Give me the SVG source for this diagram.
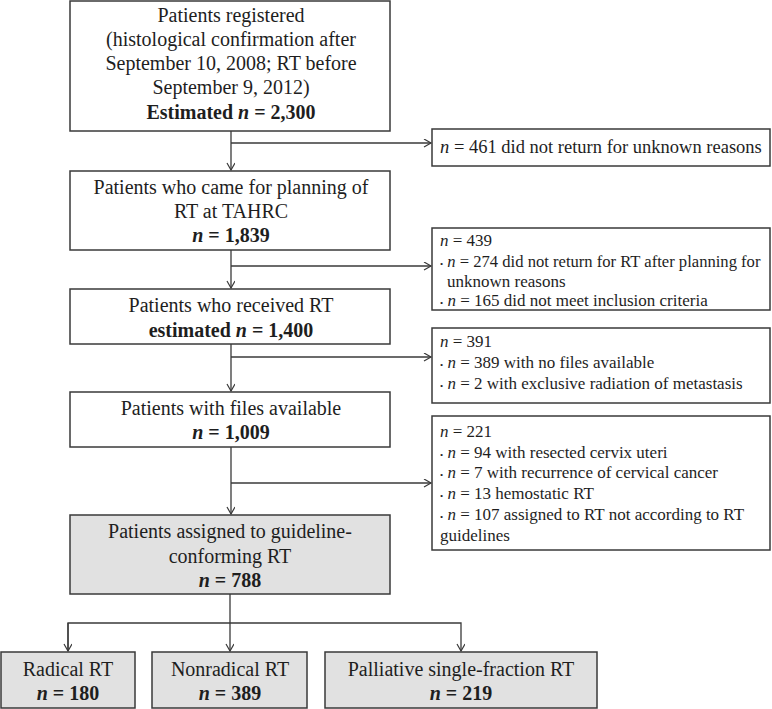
<svg xmlns="http://www.w3.org/2000/svg" width="772" height="709" viewBox="0 0 772 709">
<defs>
<marker id="arr" markerWidth="10" markerHeight="10" refX="8" refY="4" orient="auto" markerUnits="userSpaceOnUse">
<path d="M1,0 L8,4 L1,8" fill="none" stroke="#3a3a3a" stroke-width="1.2"/>
</marker>
</defs>
<style>
.box{fill:#ffffff;stroke:#3a3a3a;stroke-width:1.5}
.gbox{fill:#e1e1e1;stroke:#3a3a3a;stroke-width:1.5}
.t{font-family:"Liberation Serif","Times New Roman",serif;font-size:20px;fill:#1e1e1e;text-anchor:middle}
.r{font-family:"Liberation Serif","Times New Roman",serif;font-size:17px;fill:#1e1e1e}
.b{font-weight:bold}
.i{font-style:italic}
.bul{font-size:9px}
.c{fill:none;stroke:#3a3a3a;stroke-width:1.3}
</style>
<g id="connectors">
<path class="c" d="M231,131 V170" marker-end="url(#arr)"/>
<path class="c" d="M231,143 H431" marker-end="url(#arr)"/>
<path class="c" d="M231,250 V288" marker-end="url(#arr)"/>
<path class="c" d="M231,266 H431" marker-end="url(#arr)"/>
<path class="c" d="M231,344 V391" marker-end="url(#arr)"/>
<path class="c" d="M231,357 H431" marker-end="url(#arr)"/>
<path class="c" d="M231,447 V514" marker-end="url(#arr)"/>
<path class="c" d="M231,483 H431" marker-end="url(#arr)"/>
<path class="c" d="M230,594 V651" marker-end="url(#arr)"/>
<path class="c" d="M68,651 V623 H461 V651" marker-end="url(#arr)"/>
<path class="c" d="M68,623 V651" marker-end="url(#arr)"/>
</g>
<g id="n1">
<rect class="box" x="70" y="1" width="320" height="130"/>
<text class="t" x="231" y="22">Patients registered</text>
<text class="t" x="231" y="46">(histological confirmation after</text>
<text class="t" x="231" y="70">September 10, 2008; RT before</text>
<text class="t" x="231" y="94">September 9, 2012)</text>
<text class="t b" x="231" y="119">Estimated <tspan class="i">n</tspan> = 2,300</text>
</g>
<g id="x1">
<rect class="box" x="432" y="129" width="338" height="37"/>
<text class="r" x="440" y="153" style="font-size:18.5px"><tspan class="i">n</tspan> = 461 did not return for unknown reasons</text>
</g>
<g id="n2">
<rect class="box" x="70" y="171" width="320" height="79"/>
<text class="t" x="231" y="194">Patients who came for planning of</text>
<text class="t" x="231" y="218">RT at TAHRC</text>
<text class="t b" x="231" y="242"><tspan class="i">n</tspan> = 1,839</text>
</g>
<g id="x2">
<rect class="box" x="432" y="228" width="338" height="82"/>
<text class="r" x="440" y="246"><tspan class="i">n</tspan> = 439</text>
<text class="r" x="440" y="267" style="font-size:16.6px"><tspan class="bul">•</tspan> <tspan class="i">n</tspan> = 274 did not return for RT after planning for</text>
<text class="r" x="447" y="287">unknown reasons</text>
<text class="r" x="440" y="306"><tspan class="bul">•</tspan> <tspan class="i">n</tspan> = 165 did not meet inclusion criteria</text>
</g>
<g id="n3">
<rect class="box" x="70" y="289" width="320" height="55"/>
<text class="t" x="231" y="312">Patients who received RT</text>
<text class="t b" x="231" y="337">estimated <tspan class="i">n</tspan> = 1,400</text>
</g>
<g id="x3">
<rect class="box" x="432" y="328" width="338" height="75"/>
<text class="r" x="440" y="347"><tspan class="i">n</tspan> = 391</text>
<text class="r" x="440" y="368"><tspan class="bul">•</tspan> <tspan class="i">n</tspan> = 389 with no files available</text>
<text class="r" x="440" y="389"><tspan class="bul">•</tspan> <tspan class="i">n</tspan> = 2 with exclusive radiation of metastasis</text>
</g>
<g id="n4">
<rect class="box" x="70" y="392" width="320" height="55"/>
<text class="t" x="231" y="415">Patients with files available</text>
<text class="t b" x="231" y="439"><tspan class="i">n</tspan> = 1,009</text>
</g>
<g id="x4">
<rect class="box" x="432" y="416" width="338" height="134"/>
<text class="r" x="440" y="437"><tspan class="i">n</tspan> = 221</text>
<text class="r" x="440" y="458"><tspan class="bul">•</tspan> <tspan class="i">n</tspan> = 94 with resected cervix uteri</text>
<text class="r" x="440" y="478"><tspan class="bul">•</tspan> <tspan class="i">n</tspan> = 7 with recurrence of cervical cancer</text>
<text class="r" x="440" y="499"><tspan class="bul">•</tspan> <tspan class="i">n</tspan> = 13 hemostatic RT</text>
<text class="r" x="440" y="520"><tspan class="bul">•</tspan> <tspan class="i">n</tspan> = 107 assigned to RT not according to RT</text>
<text class="r" x="440" y="541">guidelines</text>
</g>
<g id="n5">
<rect class="gbox" x="70" y="515" width="320" height="79"/>
<text class="t" x="230" y="538">Patients assigned to guideline-</text>
<text class="t" x="230" y="563">conforming RT</text>
<text class="t b" x="230" y="587"><tspan class="i">n</tspan> = 788</text>
</g>
<g id="n6">
<rect class="gbox" x="1" y="652" width="134" height="56"/>
<text class="t" x="68" y="676">Radical RT</text>
<text class="t b" x="68" y="700"><tspan class="i">n</tspan> = 180</text>
</g>
<g id="n7">
<rect class="gbox" x="152" y="652" width="155" height="56"/>
<text class="t" x="230" y="676">Nonradical RT</text>
<text class="t b" x="230" y="700"><tspan class="i">n</tspan> = 389</text>
</g>
<g id="n8">
<rect class="gbox" x="325" y="652" width="272" height="56"/>
<text class="t" x="461" y="676">Palliative single-fraction RT</text>
<text class="t b" x="461" y="700"><tspan class="i">n</tspan> = 219</text>
</g>
</svg>
